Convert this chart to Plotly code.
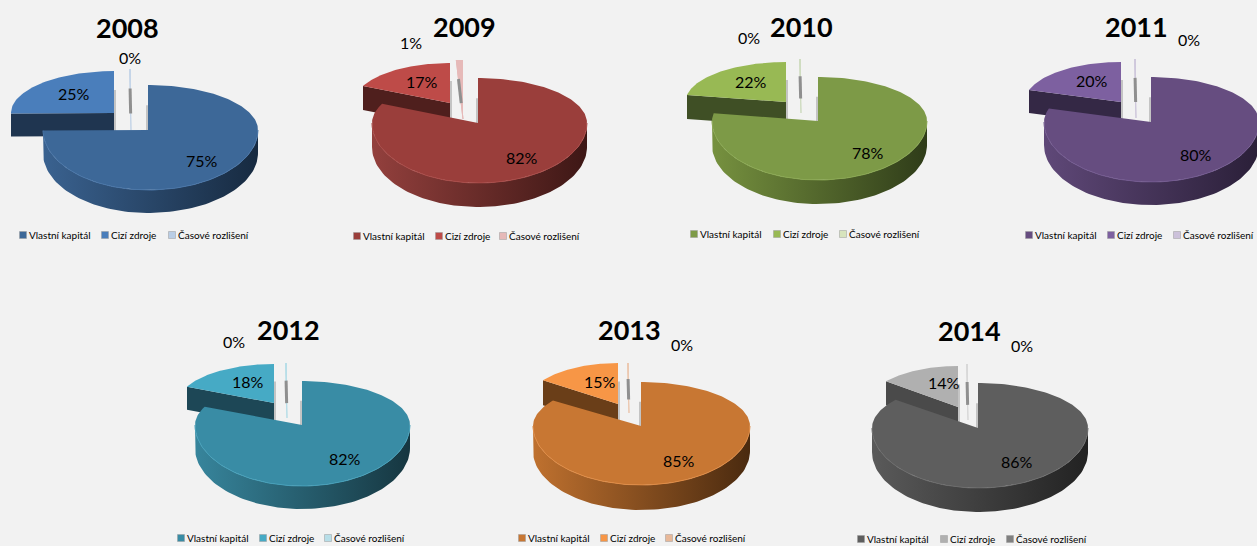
import numpy as np
import plotly.graph_objects as go

# ---- data (percent) ----
years = ["2008", "2009", "2010", "2011", "2012", "2013", "2014"]
vlastni = [75, 82, 78, 80, 82, 85, 86]
cizi = [25, 17, 22, 20, 18, 15, 14]
casove = [0.2, 1, 0.2, 0.2, 0.2, 0.2, 0.2]
legend_names = ["Vlastní kapitál", "Cizí zdroje", "Časové rozlišení"]

# ---- layout in page pixels ----
apex = [(148, 130), (478, 123), (818, 121), (1151, 122), (302, 425), (641, 426), (978, 428)]
xspan = [(43, 258), (372, 587), (712, 927), (1044, 1259), (195, 410), (533, 750), (872, 1088)]
yspan = [(85, 190, 213), (78, 183, 207), (77, 180, 204), (77, 182, 205), (381, 486, 509), (382, 485, 510), (383, 488, 512)]
wedge_apex = [(114, 113), (450, 103), (786, 102), (1121, 102), (274, 403), (618, 404), (958, 407)]
wedge_top = [71, 63, 62, 62, 364, 363, 366]
wedge_tip_x = [11, 363, 687, 1029, 187, 543, 886]
sliver = [(131, 69, 130), (463, 60, 119), (801, 59, 113), (1136, 59, 118), (287, 363, 418), (629, 363, 413), (968, 364, 420)]
title_pos = [(127, 27), (464, 26), (801, 26), (1136, 26), (288, 329), (629, 329), (969, 330)]
main_lbl = [(202, 160), (522, 157), (868, 152), (1196, 154), (345, 458), (679, 460), (1017, 461)]
cizi_lbl = [(74, 93), (422, 81), (751, 81), (1092, 80), (248, 381), (600, 381), (944, 382)]
cas_lbl = [(130, 57), (411, 42), (749, 37), (1189, 39), (234, 341), (682, 344), (1022, 345)]
legend_y = [235, 236, 234, 235, 538, 538, 539]
legend_mk = [(23, 105, 172), (357, 439, 503), (694, 777, 843), (1029, 1111, 1177), (181, 263, 328), (522, 604, 669), (861, 944, 1010)]

# ---- styles: main, wedge, legend third, wall left, wall right, wedge wall, rim, sliver face ----
styles = [
    ("#3d6898", "#4a7ebb", "#b9cde5", "#3a6290", "#172a40", "#1f3550", "#4a76a8", "#c5d5e8"),
    ("#9a3e3b", "#be4b48", "#e6b9b8", "#93403d", "#3d1715", "#4f1f1d", "#aa4c49", "#e6b9b8"),
    ("#7d9a47", "#98b954", "#d7e4bd", "#76913f", "#2f3c19", "#3f4f25", "#8aa852", "#cfdcc0"),
    ("#664d80", "#7d60a0", "#ccc1da", "#5f4878", "#2a1f38", "#342845", "#735a90", "#cfc8dc"),
    ("#398ca5", "#46aac5", "#b7dee8", "#37859c", "#163640", "#1d4756", "#46a0ba", "#b7dee8"),
    ("#c87733", "#f79646", "#e8b898", "#bf712f", "#4a2a0f", "#6a3e18", "#e08c46", "#ecc8b0"),
    ("#5e5e5e", "#b0b0b0", "#808080", "#5a5a5a", "#222222", "#4a4a4a", "#6c6c6c", "#d8d8d8"),
]
BG = "#f2f2f2"
TITLE_FONT = "Lato"
TEXT_FONT = "Lato"


def pt(c, rxl, rxr, ryt, ryb, deg):
    a = np.radians(np.asarray(deg, dtype=float))
    s, k = np.sin(a), np.cos(a)
    x = c[0] + s * np.where(s < 0, rxl, rxr)
    y = c[1] - k * np.where(k > 0, ryt, ryb)
    return x, y


fig = go.Figure()


def poly(x, y, color=None, grad=None):
    kw = dict(x=list(x), y=list(y), mode="lines", fill="toself", line=dict(width=0),
              hoverinfo="skip", showlegend=False)
    if grad:
        kw["fillgradient"] = dict(type="horizontal", colorscale=[[0, grad[0]], [1, grad[1]]])
    else:
        kw["fillcolor"] = color
    fig.add_trace(go.Scatter(**kw))


def line(x, y, color, width):
    fig.add_trace(go.Scatter(x=list(x), y=list(y), mode="lines", line=dict(color=color, width=width),
                             hoverinfo="skip", showlegend=False))


annotations = []


def text(x, y, s, size, font=TEXT_FONT, bold=False, anchor="center"):
    annotations.append(dict(x=x, y=y, xref="x", yref="y", text=f"<b>{s}</b>" if bold else s, showarrow=False,
                            xanchor=anchor, yanchor="middle", font=dict(family=font, size=size, color="#000000")))


for i, yr in enumerate(years):
    total = vlastni[i] + cizi[i] + casove[i]
    a_main = 360 * vlastni[i] / total
    a_wedge = a_main + 360 * cizi[i] / total
    main, wedge, leg3, wl, wr, wwall, rim, sl = styles[i]
    c = apex[i]
    rxl, rxr = c[0] - xspan[i][0], xspan[i][1] - c[0]
    ytop, ybot, ywall = yspan[i]
    ryt, ryb = c[1] - ytop, ybot - c[1]
    depth = ywall - ybot
    wc = wedge_apex[i]
    wr_x = (wc[0] - wedge_tip_x[i]) / abs(np.sin(np.radians(a_main)))
    wry = wc[1] - wedge_top[i]
    sx, stop, sbot = sliver[i]
    sc = (sx, sbot)
    sry = sbot - stop

    # sliver (third slice)
    ang = np.linspace(a_wedge, 360, 5)
    sxs, sys = pt(sc, rxl, rxl, sry, sry, ang)
    poly([sx, *sxs], [sbot, *sys], sl)
    line([sx, float(sxs[0]), sx], [sbot, float(sys[0]), sbot], sl, 1)
    tipx, tipy = float(sxs[0]), float(sys[0])
    line([sx + 0.68 * (tipx - sx), sx + 0.27 * (tipx - sx)],
         [sbot + 0.68 * (tipy - sbot), sbot + 0.27 * (tipy - sbot)], "#8f8f8f", 3)

    # second slice: wall then top face
    ang = np.linspace(a_main, 360, 60)
    wxs, wys = pt(wc, wr_x, wr_x, wry, wry, ang)
    poly([wxs[0], wc[0], wc[0], wxs[0]], [wys[0], wc[1], wc[1] + depth, wys[0] + depth], wwall)
    poly([wc[0], *wxs], [wc[1], *wys], wedge)
    line([wc[0] + 1, wc[0] + 1], [wc[1] - 0.55 * wry, wc[1] + depth - 2], "#c4c4c4", 2)

    # first slice: wall then top face
    low = np.linspace(90, min(270, a_main), 90)
    bx, by = pt(c, rxl, rxr, ryt, ryb, low)
    poly([*bx, *bx[::-1]], [*by, *(by[::-1] + depth)], grad=(wl, wr))
    line([c[0] - 1, c[0] - 1], [c[1] - 0.55 * ryt, c[1]], "#c4c4c4", 2)
    ang = np.linspace(0, a_main, 200)
    mx, my = pt(c, rxl, rxr, ryt, ryb, ang)
    poly([c[0], *mx], [c[1], *my], main)
    line(bx, by, rim, 1)

    # texts
    text(*title_pos[i], yr, 27, font=TITLE_FONT, bold=True)
    text(*main_lbl[i], f"{round(vlastni[i])}%", 16)
    text(*cizi_lbl[i], f"{round(cizi[i])}%", 16)
    text(*cas_lbl[i], f"{round(casove[i])}%", 16)

    # legend
    for mk, name, col in zip(legend_mk[i], legend_names, (main, wedge, leg3)):
        fig.add_trace(go.Scatter(x=[mk], y=[legend_y[i]], mode="markers", hoverinfo="skip", showlegend=False,
                                 marker=dict(symbol="square", size=7, color=col,
                                             line=dict(color="#9a9a9a", width=0.5))))
        text(mk + 4, legend_y[i], name, 10, anchor="left")

fig.update_layout(
    width=1257, height=546, autosize=False,
    margin=dict(l=0, r=0, t=0, b=0),
    paper_bgcolor=BG, plot_bgcolor=BG,
    showlegend=False,
    annotations=annotations,
    xaxis=dict(range=[0, 1257], visible=False, fixedrange=True),
    yaxis=dict(range=[546, 0], visible=False, fixedrange=True),
)
fig.write_html("out.html", config={"displayModeBar": False},
               post_script="document.body.style.margin='0';document.body.style.background='#f2f2f2';")
